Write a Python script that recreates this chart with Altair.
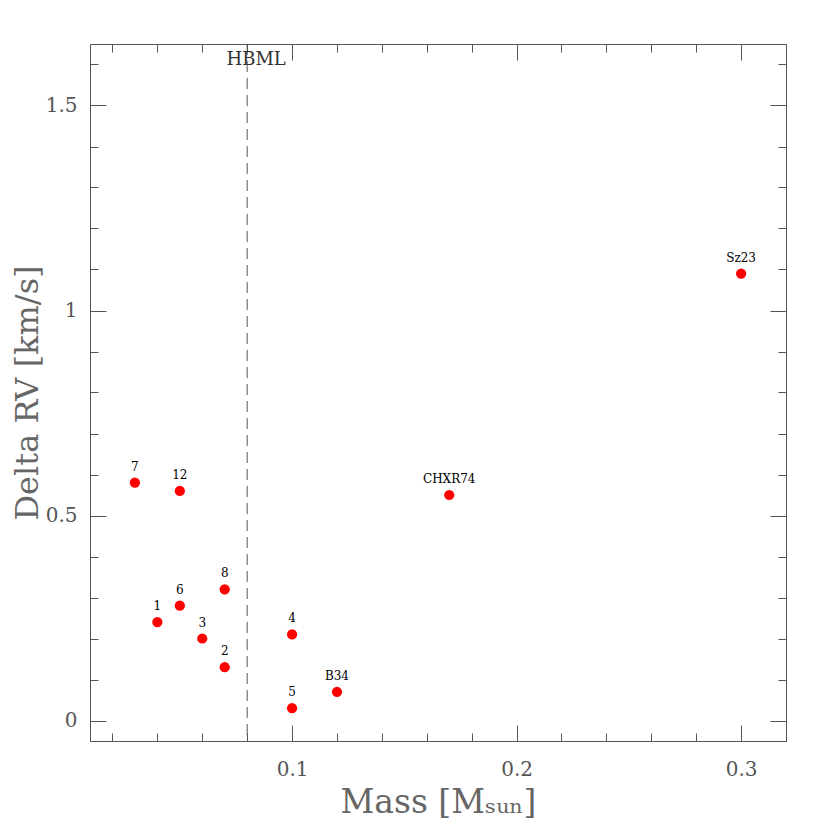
import altair as alt
import pandas as pd

# ---- data ----
names = ["7", "12", "1", "6", "3", "8", "2", "4", "5", "B34", "CHXR74", "Sz23"]
mass = [0.03, 0.05, 0.04, 0.05, 0.06, 0.07, 0.07, 0.10, 0.10, 0.12, 0.17, 0.30]
delta_rv = [0.58, 0.56, 0.24, 0.28, 0.20, 0.32, 0.13, 0.21, 0.03, 0.07, 0.55, 1.09]

hbml_mass = [0.08]
hbml_text = ["HBML"]
hbml_rv = [1.65]

x_domain = [0.01, 0.32]
y_domain = [-0.05, 1.65]
x_major = [0.1, 0.2, 0.3]
x_minor = [0.02, 0.04, 0.06, 0.08, 0.10, 0.12, 0.14, 0.16, 0.18, 0.20,
           0.22, 0.24, 0.26, 0.28, 0.30, 0.32]
y_major = [0, 0.5, 1, 1.5]
y_minor = [0, 0.1, 0.2, 0.3, 0.4, 0.5, 0.6, 0.7, 0.8, 0.9, 1.0, 1.1,
           1.2, 1.3, 1.4, 1.5, 1.6]

df = pd.DataFrame({"name": names, "mass": mass, "rv": delta_rv})
hb = pd.DataFrame({"mass": hbml_mass, "rv": hbml_rv, "label": hbml_text})

FONT = "DejaVu Serif"
AX = "#555555"
xs = alt.Scale(domain=x_domain, nice=False, zero=False)
ys = alt.Scale(domain=y_domain, nice=False, zero=False)

base = alt.Chart(df)

points = base.mark_circle(size=105, color="#ff0000", opacity=1).encode(
    x=alt.X("mass:Q", scale=xs, axis=None),
    y=alt.Y("rv:Q", scale=ys, axis=None),
)

labels = base.mark_text(dy=-16, fontSize=12, font=FONT, color="#000000").encode(
    x=alt.X("mass:Q", scale=xs, axis=None),
    y=alt.Y("rv:Q", scale=ys, axis=None),
    text="name:N",
)

hbml_rule = alt.Chart(hb).mark_rule(strokeDash=[11, 6], color="#555555", strokeWidth=1).encode(
    x=alt.X("mass:Q", scale=xs, axis=None),
)

hbml_label = alt.Chart(hb).mark_text(
    align="center", baseline="top", dx=9, dy=7, fontSize=18, font=FONT, color="#333333"
).encode(
    x=alt.X("mass:Q", scale=xs, axis=None),
    y=alt.Y("rv:Q", scale=ys, axis=None),
    text="label:N",
)


def axis_layer(xaxis, yaxis):
    return base.mark_point(opacity=0).encode(
        x=alt.X("mass:Q", scale=xs, axis=xaxis),
        y=alt.Y("rv:Q", scale=ys, axis=yaxis),
    )


label_axes = axis_layer(
    alt.Axis(orient="bottom", values=x_major, ticks=False, domain=False, grid=False,
             format="~g", labelFont=FONT, labelFontSize=20, labelColor=AX,
             labelPadding=18, title="Mass [Mₛᵤₙ]", titleFont=FONT, titleFontSize=33,
             titleFontWeight="normal", titleColor="#666666", titlePadding=7),
    alt.Axis(orient="left", values=y_major, ticks=False, domain=False, grid=False,
             format="~g", labelFont=FONT, labelFontSize=20, labelColor=AX,
             labelPadding=13, title="Delta RV [km/s]", titleFont=FONT, titleFontSize=32,
             titleFontWeight="normal", titleColor="#666666", titlePadding=1),
)


def tick_axes(xorient, yorient, xvals, yvals, size):
    return axis_layer(
        alt.Axis(orient=xorient, values=xvals, offset=-size, tickSize=size, labels=False,
                 domain=False, grid=False, title="", tickColor=AX, tickWidth=1),
        alt.Axis(orient=yorient, values=yvals, offset=-size, tickSize=size, labels=False,
                 domain=False, grid=False, title="", tickColor=AX, tickWidth=1),
    )


chart = alt.layer(
    label_axes,
    tick_axes("bottom", "left", x_major, y_major, 16),
    tick_axes("bottom", "left", x_minor, y_minor, 8),
    tick_axes("top", "right", x_major, y_major, 16),
    tick_axes("top", "right", x_minor, y_minor, 8),
    hbml_rule,
    points,
    labels,
    hbml_label,
).resolve_axis(
    x="independent", y="independent"
).properties(
    width=696,
    height=697,
    autosize=alt.AutoSizeParams(type="none"),
    padding={"left": 82, "top": 36, "right": 16, "bottom": 86},
).configure_view(
    stroke="#555555", strokeWidth=1
)

chart.save("out.html", embed_options={"renderer": "svg", "actions": False})
